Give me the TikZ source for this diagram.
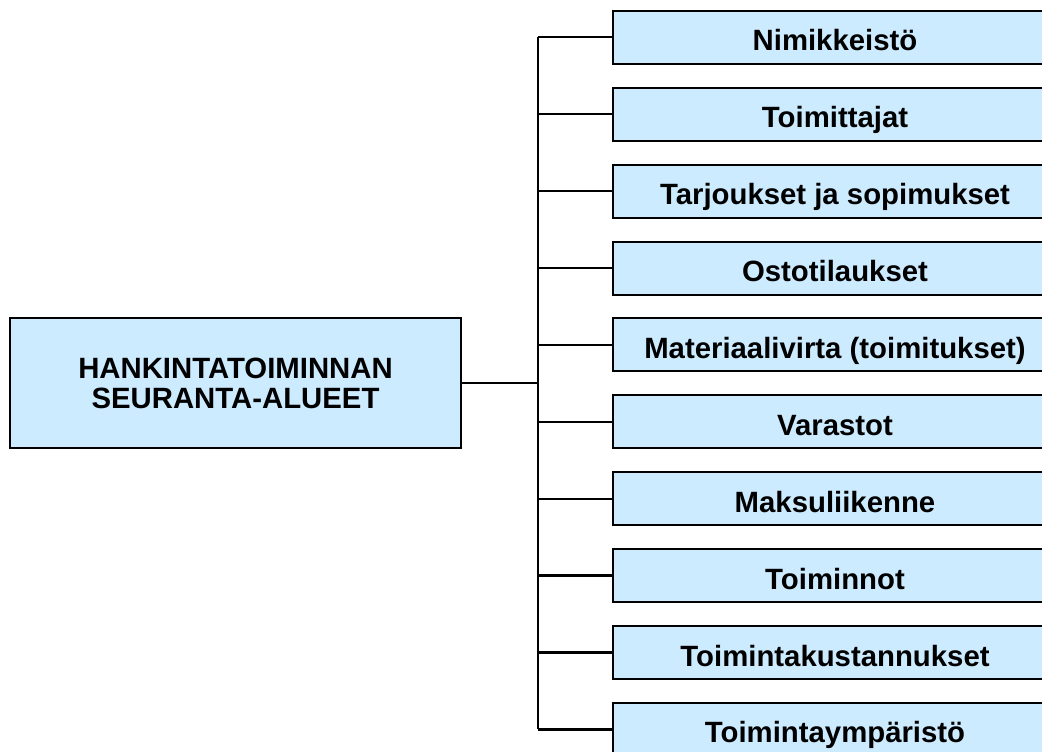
\documentclass[tikz,border=0pt]{standalone}
\usepackage{fontspec}
\setmainfont{Liberation Sans}
\definecolor{boxfill}{HTML}{CCEBFF}
\begin{document}
\begin{tikzpicture}[x=0.75pt,y=-0.75pt,
  area/.style={draw=black, line width=1.5pt, fill=boxfill, inner sep=0pt,
    font=\fontsize{22}{22.5}\selectfont\bfseries, align=center},
  subarea/.style={area, minimum width=333pt, minimum height=39.75pt,
    text height=20.3pt, text depth=0pt},
  link/.style={draw=black, line width=1.7pt}]
\useasboundingbox (0,0) rectangle (1042,751);
\clip (0,0) rectangle (1042,751);

\node[area, minimum width=338.25pt, minimum height=97.5pt] (main) at (235.5,383)
  {HANKINTATOIMINNAN\\SEURANTA-ALUEET};

\foreach \name/\txt [count=\i from 0] in {
  b1/Nimikkeistö,
  b2/Toimittajat,
  b3/Tarjoukset ja sopimukset,
  b4/Ostotilaukset,
  b5/Materiaalivirta (toimitukset),
  b6/Varastot,
  b7/Maksuliikenne,
  b8/Toiminnot,
  b9/Toimintakustannukset,
  b10/Toimintaympäristö}
  \node[subarea] (\name) at (835,{37.3+76.9*\i}) {\txt};

\coordinate (j) at (538,383);
\draw[link] (main.east) -- (j);
\draw[link] (b1.west -| j) -- (b10.west -| j);
\foreach \name in {b1,b2,b3,b4,b5,b6,b7,b8,b9,b10}
  \draw[link] (\name.west -| j) -- (\name.west);
\end{tikzpicture}
\end{document}
